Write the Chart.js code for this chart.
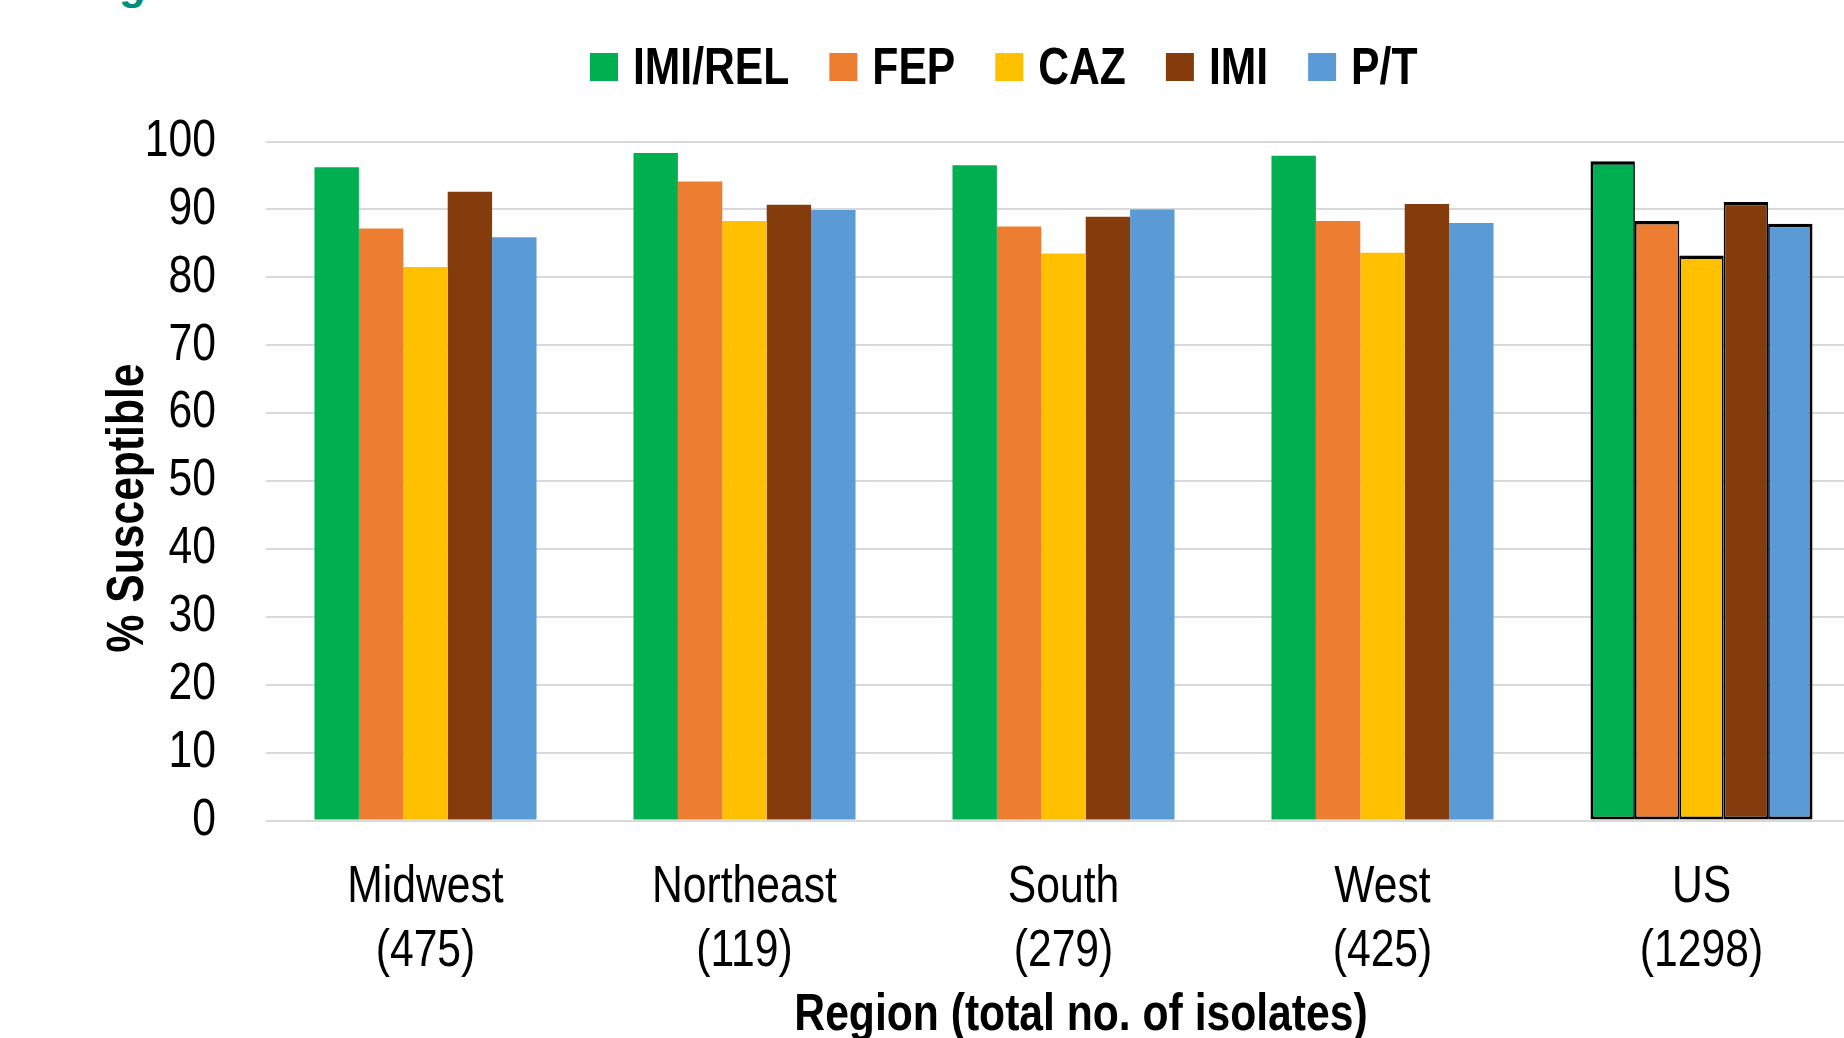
<!DOCTYPE html>
<html>
<head>
<meta charset="utf-8">
<title>% Susceptible by region</title>
<script src="https://cdn.jsdelivr.net/npm/chart.js@4.4.0/dist/chart.umd.min.js"></script>
<style>
  html, body { margin: 0; padding: 0; background: #fff; overflow: hidden; width: 1844px; height: 1038px; }
  #wrap { position: relative; width: 1844px; height: 1038px; overflow: hidden; }
  #chart { position: absolute; left: 0; top: 0; }
  #fig { position: absolute; left: 119px; top: -38px; color: #008C7E;
         font: bold 44px "Liberation Sans", Arial, sans-serif; line-height: 44px; }
</style>
</head>
<body>
<div id="wrap">
  <div id="fig">g</div>
  <canvas id="chart" width="1900" height="1038"></canvas>
</div>
<script>
var FONT = '"Liberation Sans", Arial, sans-serif';
var NARROW = 0.82;   // horizontal squeeze, gives an Arial Narrow look

var regions = ["Midwest", "Northeast", "South", "West", "US"];
var isolates = [475, 119, 279, 425, 1298];
var drugs = ["IMI/REL", "FEP", "CAZ", "IMI", "P/T"];
var drugColors = ["#00B050", "#ED7D31", "#FFC000", "#843C0C", "#5B9BD5"];

// % susceptible per region, one array per drug
var imiRel = [96.2, 98.3, 96.5, 97.9, 97.1];
var fep    = [87.2, 94.1, 87.5, 88.3, 88.3];
var caz    = [81.5, 88.3, 83.5, 83.6, 83.2];
var imi    = [92.6, 90.7, 88.9, 90.8, 91.1];
var pt     = [85.9, 89.9, 90.0, 88.0, 87.9];

var yTicks = [0, 10, 20, 30, 40, 50, 60, 70, 80, 90, 100];
var xTitle = "Region (total no. of isolates)";
var yTitle = "% Susceptible";

var series = [imiRel, fep, caz, imi, pt];
var totalIdx = regions.indexOf("US");

var labels = regions.map(function(r, i) { return [r, "(" + isolates[i] + ")"]; });

var datasets = drugs.map(function(name, d) {
  return {
    label: name,
    data: series[d],
    backgroundColor: drugColors[d],
    borderColor: "#000",
    borderSkipped: false,
    // the national total gets a black outline
    borderWidth: function(c) {
      if (c.dataIndex !== totalIdx) return 0;
      return { top: 3.5, bottom: 3, left: d === 0 ? 3 : 1.7, right: d === drugs.length - 1 ? 3 : 1.7 };
    },
    categoryPercentage: 0.696,
    barPercentage: 1.0
  };
});

// every string on the canvas is drawn squeezed around its anchor point
var squeeze = {
  id: "squeeze",
  beforeDraw: function(chart) {
    var ctx = chart.ctx;
    if (ctx._squeezed) return;
    var orig = ctx.fillText;
    ctx.fillText = function(text, x, y, maxWidth) {
      this.save();
      this.translate(x, y);
      this.scale(NARROW, 1);
      if (maxWidth === undefined || maxWidth === null) orig.call(this, text, 0, 0);
      else orig.call(this, text, 0, 0, maxWidth / NARROW);
      this.restore();
    };
    ctx._squeezed = true;
  }
};

// legend row plus the two axis titles
var decorations = {
  id: "decorations",
  afterDraw: function(chart) {
    var ctx = chart.ctx;
    ctx.save();
    ctx.fillStyle = "#000";
    ctx.font = "bold 52px " + FONT;
    ctx.textBaseline = "alphabetic";

    var x = 590;
    chart.data.datasets.forEach(function(ds) {
      ctx.fillStyle = ds.backgroundColor;
      ctx.fillRect(x, 53, 28, 28);
      x += 28 + 15;
      ctx.fillStyle = "#000";
      ctx.textAlign = "left";
      ctx.fillText(ds.label, x, 84);
      x += ctx.measureText(ds.label).width * NARROW + 40;
    });

    ctx.textAlign = "center";
    ctx.fillText(xTitle, 1081, 1030);
    ctx.translate(143, 508);
    ctx.rotate(-Math.PI / 2);
    ctx.fillText(yTitle, 0, 0);
    ctx.restore();
  }
};

var chart = new Chart(document.getElementById("chart"), {
  type: "bar",
  data: { labels: labels, datasets: datasets },
  plugins: [squeeze, decorations],
  options: {
    responsive: false,
    animation: false,
    devicePixelRatio: 1,
    layout: { padding: { top: 141.5, right: 39, bottom: 0, left: 0 } },
    plugins: {
      legend: { display: false },
      tooltip: { enabled: false }
    },
    scales: {
      x: {
        grid: { display: false, drawTicks: false },
        border: { display: false },
        ticks: {
          color: "#000",
          padding: 35,
          maxRotation: 0,
          autoSkip: false,
          font: { family: FONT, size: 52, lineHeight: 1.23 }
        },
        afterFit: function(s) { s.height = 217.5; }
      },
      y: {
        min: 0,
        max: 100,
        afterBuildTicks: function(s) { s.ticks = yTicks.map(function(v) { return { value: v }; }); },
        grid: { color: "#D9D9D9", lineWidth: 2, drawTicks: false },
        border: { display: false },
        ticks: {
          color: "#000",
          padding: 50,
          font: { family: FONT, size: 52 }
        },
        afterFit: function(s) { s.width = 266; }
      }
    }
  }
});
</script>
</body>
</html>
